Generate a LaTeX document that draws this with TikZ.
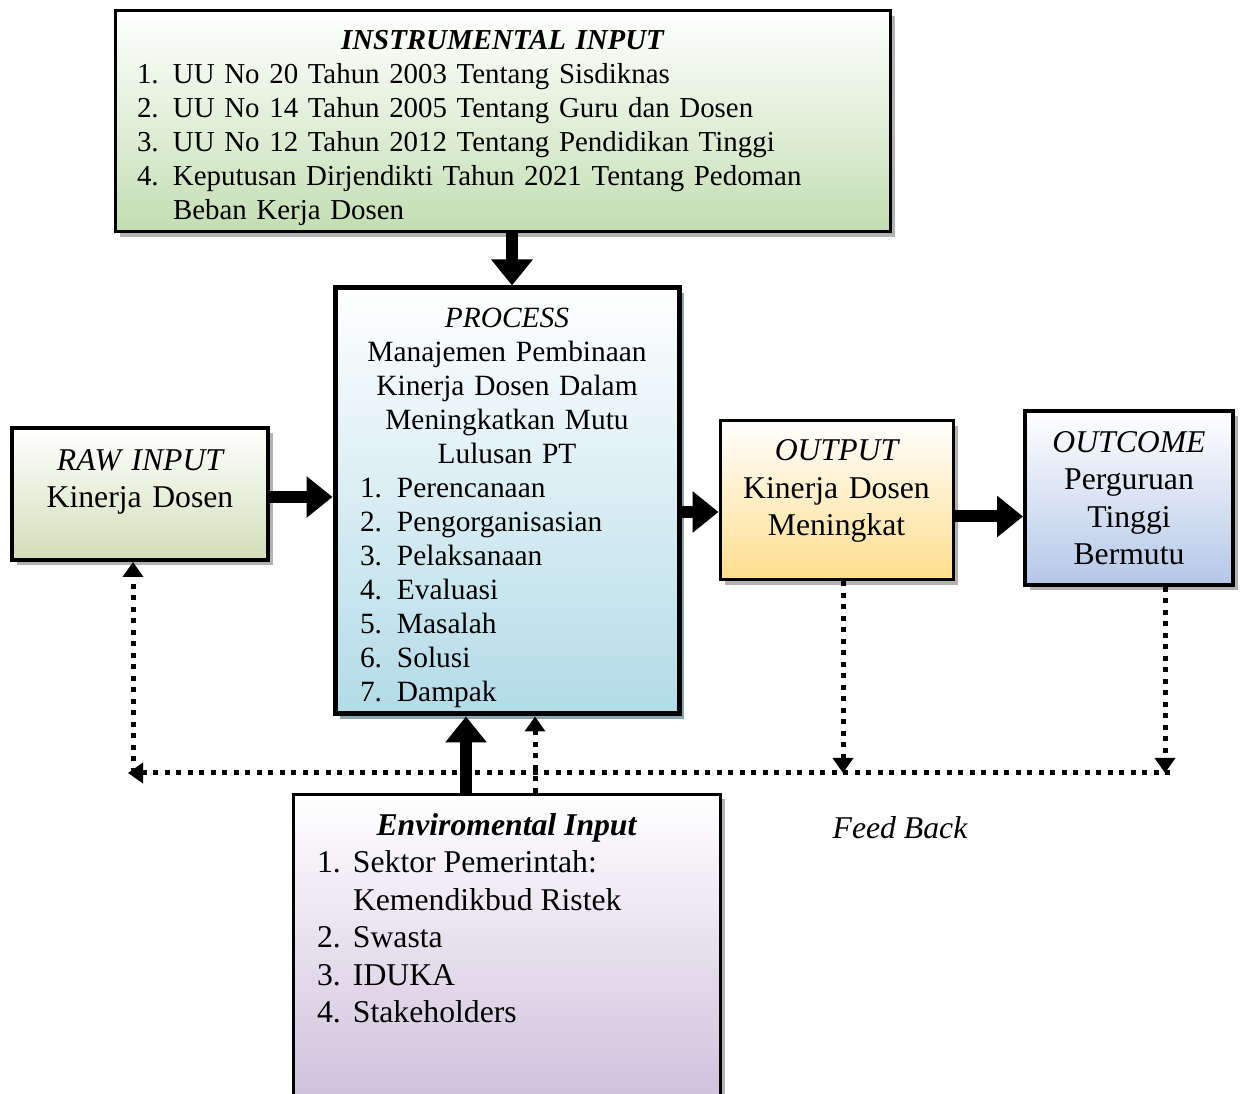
\documentclass[tikz,border=0pt]{standalone}
\usepackage{fontspec}
\setmainfont{Liberation Serif}
\usetikzlibrary{arrows.meta,shadows}

\definecolor{instrcol}{RGB}{195,222,178}
\definecolor{rawcol}{RGB}{211,222,184}
\definecolor{proccol}{RGB}{178,219,231}
\definecolor{outcol}{RGB}{254,222,140}
\definecolor{outccol}{RGB}{180,199,231}
\definecolor{envcol}{RGB}{204,190,218}
\definecolor{procshadow}{RGB}{140,165,175}

\newcommand{\nomor}[3][36pt]{\noindent\makebox[#1][l]{#2}#3\par}
\newcommand{\besar}{\fontsize{31.7}{37.5}\selectfont}
\newcommand{\sedang}{\fontsize{29.4}{34}\selectfont}
\newcommand{\kecil}{\fontsize{28.9}{34}\selectfont}
% invisible struts to move the text block inside a box
\newcommand{\atas}[1]{\rule{0pt}{#1}}
\newcommand{\bawah}[1]{\rule[-#1]{0pt}{0pt}}

\tikzset{
  boks/.style={draw=black, line width=3pt, top color=white, bottom color=#1, inner sep=0pt},
  shadowed/.style={drop shadow={shadow xshift=5pt, shadow yshift=-5pt, fill=#1, opacity=1}},
  blokpanah/.style={line width=12pt, -{Triangle[length=26pt,width=40pt]}},
  umpanbalik/.style={line width=5pt, dash pattern=on 5pt off 6.5pt, -{Triangle[length=15pt,width=20pt]}},
}

\begin{document}
\begin{tikzpicture}[x=1pt,y=1pt]
\useasboundingbox (0,0) rectangle (1243,1093);
\clip (0,0) rectangle (1243,1093);

\node[boks=instrcol, shadowed=gray!60, minimum width=775pt, minimum height=221pt,
      text width=731pt, align=left, font=\kecil] (instr) at (502.5,971.5)
     {{\centering\bfseries\itshape\atas{32pt}INSTRUMENTAL INPUT\par}
      \nomor{1.}{UU No 20 Tahun 2003 Tentang Sisdiknas}
      \nomor{2.}{UU No 14 Tahun 2005 Tentang Guru dan Dosen}
      \nomor{3.}{UU No 12 Tahun 2012 Tentang Pendidikan Tinggi}
      \nomor{4.}{Keputusan Dirjendikti Tahun 2021 Tentang Pedoman}
      \nomor{}{Beban Kerja Dosen}};

\node[boks=proccol, shadowed=procshadow, line width=5pt, minimum width=344pt, minimum height=426pt,
      text width=294pt, align=left, font=\sedang] (proc) at (507,592)
     {{\centering\itshape\atas{34pt}PROCESS\par}
      {\centering Manajemen Pembinaan\par Kinerja Dosen Dalam\par Meningkatkan Mutu\par Lulusan PT\par}
      \nomor[37pt]{1.}{Perencanaan}
      \nomor[37pt]{2.}{Pengorganisasian}
      \nomor[37pt]{3.}{Pelaksanaan}
      \nomor[37pt]{4.}{Evaluasi}
      \nomor[37pt]{5.}{Masalah}
      \nomor[37pt]{6.}{Solusi}
      \nomor[37pt]{7.}{Dampak}};

\node[boks=rawcol, shadowed=gray!60, line width=4pt, minimum width=256pt, minimum height=132pt,
      text width=240pt, align=center, font=\besar] (raw) at (140,599)
     {{\itshape RAW INPUT}\\ Kinerja Dosen\bawah{31pt}};

\node[boks=outcol, shadowed=gray!60, minimum width=233pt, minimum height=159pt,
      text width=220pt, align=center, font=\besar] (out) at (836.5,592.5)
     {{\itshape OUTPUT}\\ Kinerja Dosen\\ Meningkat\bawah{25pt}};

\node[boks=outccol, shadowed=gray!60, line width=4pt, minimum width=208pt, minimum height=174pt,
      text width=200pt, align=center, font=\besar] (outc) at (1129,595)
     {{\itshape OUTCOME}\\ Perguruan\\ Tinggi\\ Bermutu};

\node[boks=envcol, shadowed=gray!60, minimum width=427pt, minimum height=320pt,
      anchor=north, font=\besar] (env) at (506.5,300)
     {\parbox[c][320pt][t]{379pt}{\vspace*{19pt}
      {\centering\bfseries\itshape Enviromental Input\par}
      \nomor{1.}{Sektor Pemerintah:}
      \nomor{}{Kemendikbud Ristek}
      \nomor{2.}{Swasta}
      \nomor{3.}{IDUKA}
      \nomor{4.}{Stakeholders}}};

\node[font=\besar\itshape] (fbteks) at (900,265) {Feed Back};

\coordinate (fbkanan) at (1170,320);
\coordinate (fbkiri) at (128,320);

% main flow
\draw[blokpanah] ([xshift=9.5pt]instr.south) -- ([xshift=5pt]proc.north);
\draw[blokpanah] ([yshift=-3pt]raw.east) -- ([yshift=-3pt]raw.east -| proc.west);
\draw[blokpanah] ([yshift=-11pt]proc.east) -- ([yshift=-11pt]proc.east -| out.west);
\draw[blokpanah] ([yshift=-16pt]out.east) -- ([yshift=-16pt]out.east -| outc.west);
\draw[blokpanah] ([xshift=-40.5pt]env.north) -- ([xshift=-40.5pt]env.north |- proc.south);

% feed back
\draw[umpanbalik] ([xshift=28.5pt]env.north) -- ([xshift=28.5pt]env.north |- proc.south);
\draw[umpanbalik] ([xshift=6.5pt]out.south) -- ([xshift=6.5pt]out.south |- fbkanan);
\draw[umpanbalik] ([xshift=36pt]outc.south) -- ([xshift=36pt]outc.south |- fbkanan);
\draw[umpanbalik] (fbkanan) -- (fbkiri);
\draw[umpanbalik] ([xshift=-7pt]raw.south |- fbkiri) -- ([xshift=-7pt]raw.south);
\end{tikzpicture}
\end{document}
